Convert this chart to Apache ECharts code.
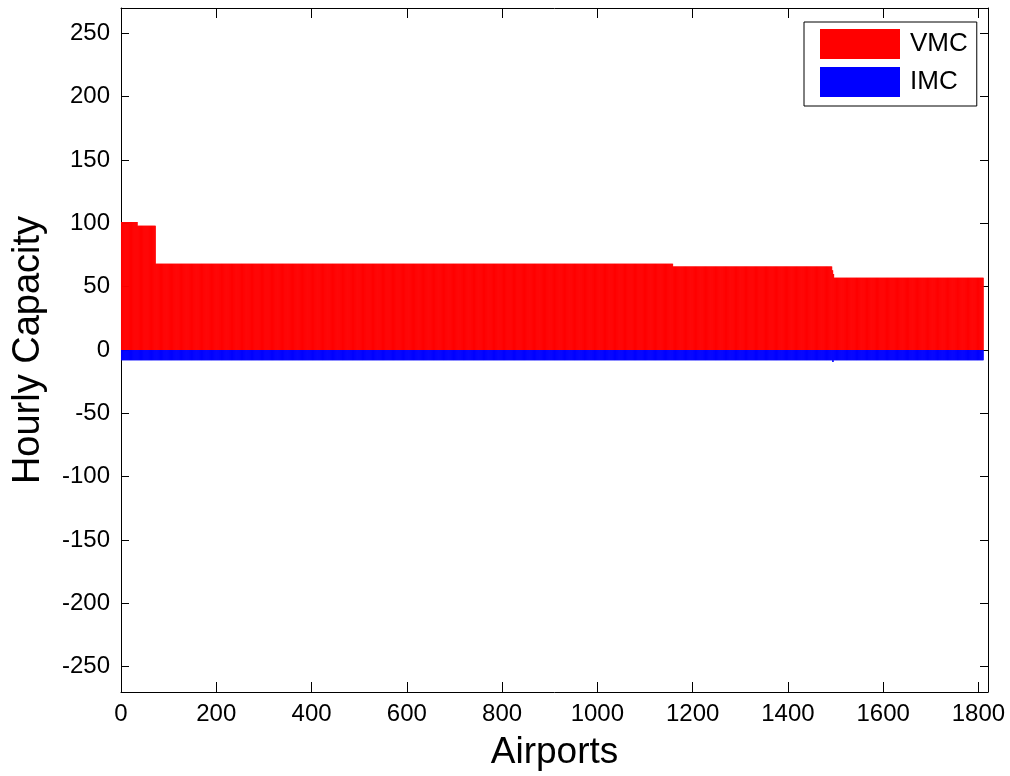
<!DOCTYPE html>
<html>
<head>
<meta charset="utf-8">
<script src="https://cdn.jsdelivr.net/npm/echarts@6/dist/echarts.min.js"></script>
<style>
html,body{margin:0;padding:0;background:#fff;}
#chart{width:1010px;height:776px;}
</style>
</head>
<body>
<div id="chart"></div>
<script>
// Run-length encoded values: [number of airports, hourly capacity]
const vmcRuns = [[34, 101], [38, 98], [1086, 68], [334, 66], [2, 63], [2, 60], [314, 57]];
const imcRuns = [[1493, -8], [2, -9.5], [315, -8]];
const seriesNames = ['VMC', 'IMC'];
const xTicks = [0, 200, 400, 600, 800, 1000, 1200, 1400, 1600, 1800];
const yTicks = [-250, -200, -150, -100, -50, 0, 50, 100, 150, 200, 250];
const xRange = [0, 1820];
const yRange = [-270, 270];

function expand(runs) {
  const out = [];
  let idx = 1;
  runs.forEach(([n, v]) => {
    for (let k = 0; k < n; k++) { out.push([idx, v]); idx++; }
  });
  return out;
}
const vmcData = expand(vmcRuns);
const imcData = expand(imcRuns);

const FONT = "'Liberation Sans', Arial, Helvetica, sans-serif";
const chart = echarts.init(document.getElementById('chart'), null, {renderer: 'canvas'});

const lineStyle = {color: '#000', width: 1};
function xAx(pos, showLabel) {
  return {
    type: 'value', position: pos, min: xRange[0], max: xRange[1],
    name: showLabel ? 'Airports' : '', nameLocation: 'middle', nameGap: 42,
    nameTextStyle: {fontFamily: FONT, fontSize: 37, color: '#000'},
    axisLine: {show: true, onZero: false, lineStyle},
    axisTick: {show: true, inside: true, length: 10, customValues: xTicks, lineStyle},
    axisLabel: {show: showLabel, customValues: xTicks, margin: 10, fontFamily: FONT, fontSize: 24, color: '#000',
                formatter: v => String(v)},
    splitLine: {show: false}
  };
}
function yAx(pos, showLabel) {
  return {
    type: 'value', position: pos, min: yRange[0], max: yRange[1],
    name: showLabel ? 'Hourly Capacity' : '', nameLocation: 'middle', nameGap: 73,
    nameTextStyle: {fontFamily: FONT, fontSize: 38, color: '#000'},
    axisLine: {show: true, onZero: false, lineStyle},
    axisTick: {show: true, inside: true, length: 8, customValues: yTicks, lineStyle},
    axisLabel: {show: showLabel, customValues: yTicks, margin: 11, fontFamily: FONT, fontSize: 24, color: '#000',
                formatter: v => String(v)},
    splitLine: {show: false}
  };
}

chart.setOption({
  animation: false,
  backgroundColor: '#fff',
  grid: {left: 121, right: 22, top: 8, bottom: 84, containLabel: false},
  legend: {
    orient: 'vertical', left: 804, top: 22,
    padding: [7, 9, 9, 16],
    itemWidth: 80, itemHeight: 30, itemGap: 8,
    borderColor: '#000', borderWidth: 1, backgroundColor: '#fff',
    icon: 'rect',
    textStyle: {fontFamily: FONT, fontSize: 26, color: '#000', padding: [0, 0, 0, 5]},
    data: seriesNames
  },
  xAxis: [xAx('bottom', true), xAx('top', false)],
  yAxis: [yAx('left', true), yAx('right', false)],
  series: [
    {name: seriesNames[0], type: 'bar', xAxisIndex: 0, yAxisIndex: 0, data: vmcData,
     barWidth: 1, barGap: '-100%', itemStyle: {color: '#ff0000'}},
    {name: seriesNames[1], type: 'bar', xAxisIndex: 0, yAxisIndex: 0, data: imcData,
     barWidth: 1, barGap: '-100%', itemStyle: {color: '#0000ff'}}
  ]
});
</script>
</body>
</html>
